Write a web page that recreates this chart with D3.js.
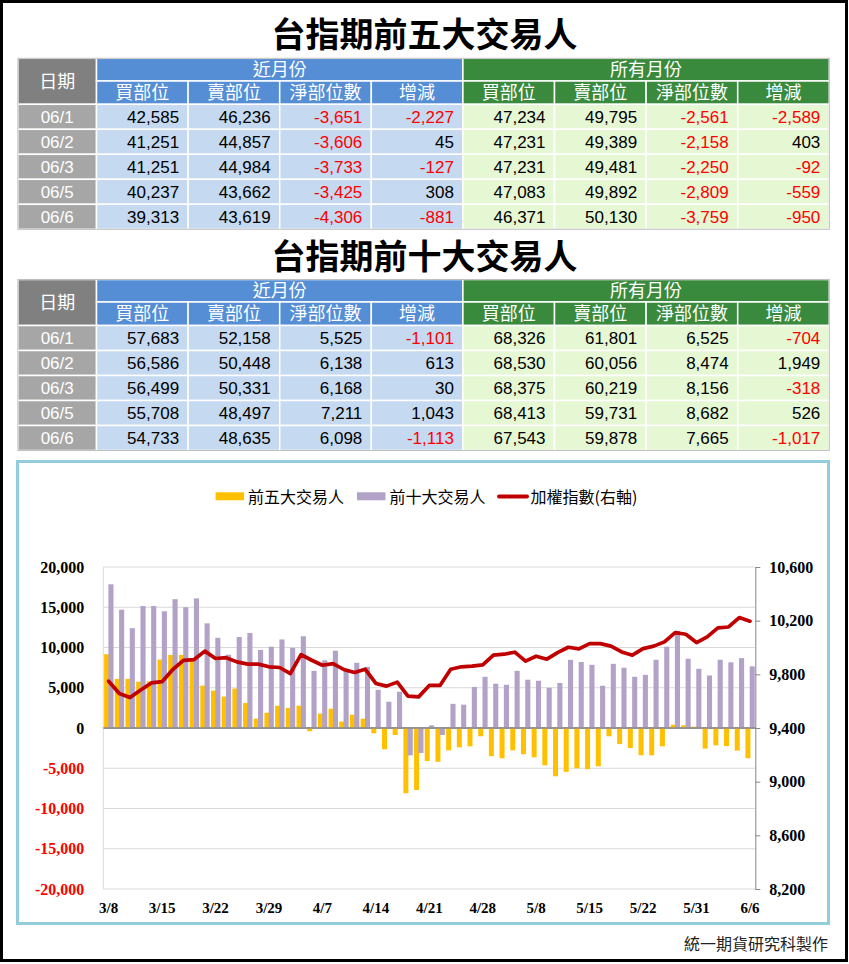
<!DOCTYPE html>
<html><head><meta charset="utf-8">
<script src="https://cdn.jsdelivr.net/npm/d3@7"></script>
<style>
body{margin:0;background:#fff;}
svg{display:block;}
</style></head><body>
<svg id="c" width="849" height="964"></svg>
<script>
// ---------- table data ----------
const dates = ["06/1","06/2","06/3","06/5","06/6"];
const groupHeaders = ["近月份","所有月份"];
const subHeaders = ["買部位","賣部位","淨部位數","增減"];

const t5NearBuy  = [42585, 41251, 41251, 40237, 39313];
const t5NearSell = [46236, 44857, 44984, 43662, 43619];
const t5NearNet  = [-3651, -3606, -3733, -3425, -4306];
const t5NearChg  = [-2227, 45, -127, 308, -881];
const t5AllBuy   = [47234, 47231, 47231, 47083, 46371];
const t5AllSell  = [49795, 49389, 49481, 49892, 50130];
const t5AllNet   = [-2561, -2158, -2250, -2809, -3759];
const t5AllChg   = [-2589, 403, -92, -559, -950];

const t10NearBuy  = [57683, 56586, 56499, 55708, 54733];
const t10NearSell = [52158, 50448, 50331, 48497, 48635];
const t10NearNet  = [5525, 6138, 6168, 7211, 6098];
const t10NearChg  = [-1101, 613, 30, 1043, -1113];
const t10AllBuy   = [68326, 68530, 68375, 68413, 67543];
const t10AllSell  = [61801, 60056, 60219, 59731, 59878];
const t10AllNet   = [6525, 8474, 8156, 8682, 7665];
const t10AllChg   = [-704, 1949, -318, 526, -1017];

// ---------- chart data ----------
const seriesNames = ["前五大交易人","前十大交易人","加權指數(右軸)"];
const tickLabels = ["3/8","3/15","3/22","3/29","4/7","4/14","4/21","4/28","5/8","5/15","5/22","5/31","6/6"];
const top5 = [9170,6100,6100,5750,5800,8500,9070,9070,8500,5260,
  4640,3900,4900,3100,1160,1900,2770,2500,2770,-400,
  1780,2400,800,1650,1160,-660,-2640,-870,-8100,-7700,
  -4100,-4200,-2770,-2400,-2270,-1030,-3500,-3760,-2770,-3260,
  -3640,-4630,-6000,-5450,-5000,-5120,-4750,-1030,-2000,-2480,
  -3390,-3390,-2270,410,330,170,-2561,-2158,-2250,-2809,-3759];
const top10 = [17850,14700,12400,15150,15150,14500,16000,15000,16100,13000,
  11200,9100,11300,11800,9700,10100,11000,9960,11400,7100,
  8400,9600,7070,8100,7600,4750,3260,4500,-3400,-3100,
  330,-870,3000,2900,5100,6360,5500,5370,7100,6000,
  5870,5000,5600,8470,8200,7850,5250,7970,7480,6360,
  6600,8470,10100,12070,8600,7360,6525,8474,8156,8682,7665];
const taiex = [9749,9657,9627,9683,9736,9745,9836,9904,9910,9973,
  9918,9924,9893,9876,9876,9856,9851,9806,9947,9905,
  9868,9880,9836,9814,9838,9732,9712,9742,9637,9632,
  9717,9717,9838,9856,9861,9871,9943,9950,9965,9898,
  9935,9913,9962,10002,9990,10029,10029,10010,9967,9943,
  9992,10010,10042,10111,10099,10037,10079,10146,10153,10223,10196];
const leftTicks = [-20000,-15000,-10000,-5000,0,5000,10000,15000,20000];
const rightTicks = [8200,8600,9000,9400,9800,10200,10600];

// ---------- setup ----------
const loc = d3.formatLocale({decimal:".", thousands:",", grouping:[3], currency:["",""], minus:"-"});
const fmt = loc.format(",");
const CJK = "'Noto Sans CJK TC','Noto Sans CJK SC','Noto Sans',sans-serif";
const NUM = "'Liberation Sans',Arial,sans-serif";
const SERIF = "'Liberation Serif','Times New Roman',serif";
const svg = d3.select("#c");

// outer border
svg.append("rect").attr("x",1.5).attr("y",1.5).attr("width",845).attr("height",959)
  .attr("fill","none").attr("stroke","#000").attr("stroke-width",3);

// ---------- tables ----------
function drawTable(title, titleBase, top, h1, h2, cols) {
  const g = svg.append("g");
  g.append("text").attr("x",424.5).attr("y",titleBase).attr("text-anchor","middle")
    .style("font-family",CJK).style("font-size","34px").style("font-weight","bold")
    .attr("fill","#000").text(title);
  const left = 17.9, dateR = 96.5, right = 829.3;
  const colX = d3.scaleBand().domain(d3.range(8)).range([dateR, right]);
  const bw = colX.bandwidth();
  const rowY = d3.scaleBand().domain(dates).range([top+h1+h2, top+h1+h2+125]);
  const rh = rowY.bandwidth();
  const blue = "#558ED5", green = "#3A8A3D";
  const cell = (x,y,w,h,fill) => g.append("rect").attr("x",x).attr("y",y).attr("width",w).attr("height",h)
      .attr("fill",fill).attr("stroke","#fff").attr("stroke-width",1.5);
  const label = (x,y,t,anchor,size,color,font) => g.append("text").attr("x",x).attr("y",y)
      .attr("text-anchor",anchor).style("font-family",font).style("font-size",size+"px")
      .attr("fill",color).text(t);
  // date header
  cell(left, top, dateR-left, h1+h2, "#808080");
  label((left+dateR)/2, top+(h1+h2)/2+6.5, "日期", "middle", 18, "#fff", CJK);
  // group headers
  [0,1].forEach(k => {
    const x0 = colX(k*4), x1 = k===0 ? colX(4) : right;
    cell(x0, top, x1-x0, h1, k===0?blue:green);
    label((x0+x1)/2, top+h1/2+6.5, groupHeaders[k], "middle", 18, "#fff", CJK);
  });
  d3.range(8).forEach(k => {
    cell(colX(k), top+h1, bw, h2, k<4?blue:green);
    label(colX(k)+bw/2, top+h1+h2/2+6.5, subHeaders[k%4], "middle", 18, "#fff", CJK);
  });
  dates.forEach((d,r) => {
    const y = rowY(d);
    cell(left, y, dateR-left, rh, "#A6A6A6");
    label((left+dateR)/2, y+rh/2+6.2, d, "middle", 17, "#fff", NUM);
    cols.forEach((arr,k) => {
      cell(colX(k), y, bw, rh, k<4 ? "#C5D9F1" : "#E6F7D4");
      const v = arr[r];
      label(colX(k)+bw-9, y+rh/2+6.2, fmt(v), "end", 17, v<0?"#FF0000":"#000", NUM);
    });
  });
  g.append("rect").attr("x",left).attr("y",top).attr("width",right-left).attr("height",h1+h2+125)
    .attr("fill","none").attr("stroke","#BFBFBF").attr("stroke-width",1);
}
drawTable("台指期前五大交易人", 47, 58.3, 22.7, 23.3,
  [t5NearBuy,t5NearSell,t5NearNet,t5NearChg,t5AllBuy,t5AllSell,t5AllNet,t5AllChg]);
drawTable("台指期前十大交易人", 268.5, 279.5, 22.5, 23.5,
  [t10NearBuy,t10NearSell,t10NearNet,t10NearChg,t10AllBuy,t10AllSell,t10AllNet,t10AllChg]);

// ---------- chart ----------
svg.append("rect").attr("x",17.5).attr("y",461.5).attr("width",811).attr("height",462)
  .attr("fill","#fff").attr("stroke","#93CDDD").attr("stroke-width",3);

const pl = 103.3, pr = 755.3, pt = 567, pb = 889;
const x = d3.scaleBand().domain(d3.range(top5.length)).range([pl, pr]);
const yL = d3.scaleLinear().domain([-20000,20000]).range([pb, pt]);
const yR = d3.scaleLinear().domain([8200,10600]).range([pb, pt]);
const cg = svg.append("g");

// gridlines
cg.selectAll("line.grid").data(leftTicks).join("line").attr("class","grid")
  .attr("x1",pl).attr("x2",pr).attr("y1",d=>yL(d)).attr("y2",d=>yL(d))
  .attr("stroke",d=>d===0?"#8C8C8C":"#D9D9D9").attr("stroke-width",d=>d===0?1.3:1);
cg.append("line").attr("x1",pl).attr("x2",pl).attr("y1",pt).attr("y2",pb)
  .attr("stroke","#D9D9D9");

// bars
const colors = ["#FFC000","#B3A2C7","#C00000"];
cg.selectAll("rect.b5").data(top5).join("rect").attr("class","b5")
  .attr("x",(d,i)=>x(i)+0.8).attr("width",5.0)
  .attr("y",d=>yL(Math.max(0,d))).attr("height",d=>Math.abs(yL(d)-yL(0)))
  .attr("fill",colors[0]);
cg.selectAll("rect.b10").data(top10).join("rect").attr("class","b10")
  .attr("x",(d,i)=>x(i)+5.1).attr("width",5.1)
  .attr("y",d=>yL(Math.max(0,d))).attr("height",d=>Math.abs(yL(d)-yL(0)))
  .attr("fill",colors[1]);
// redraw zero line on top
cg.append("line").attr("x1",pl).attr("x2",pr).attr("y1",yL(0)).attr("y2",yL(0))
  .attr("stroke","#8C8C8C").attr("stroke-width",1.3);

// line
const line = d3.line().x((d,i)=>x(i)+x.bandwidth()/2).y(d=>yR(d)).curve(d3.curveLinear);
cg.append("path").datum(taiex).attr("d",line).attr("fill","none")
  .attr("stroke",colors[2]).attr("stroke-width",3.7).attr("stroke-linejoin","round").attr("stroke-linecap","round");

// left axis
const ax = cg.append("g").attr("transform",`translate(${pl},0)`)
  .call(d3.axisLeft(yL).tickValues(leftTicks).tickSize(0).tickPadding(19).tickFormat(fmt));
ax.select(".domain").remove();
ax.selectAll("text").style("font-family",SERIF).style("font-size","16px").style("font-weight","bold")
  .attr("fill",d=>d<0?"#FF0000":"#000");

// right axis
const ar = cg.append("g").attr("transform",`translate(${pr},0)`)
  .call(d3.axisRight(yR).tickValues(rightTicks).tickSize(5).tickSizeOuter(0).tickPadding(9).tickFormat(fmt));
ar.select(".domain").attr("stroke","#868686");
ar.selectAll(".tick line").attr("stroke","#868686");
ar.selectAll("text").style("font-family",SERIF).style("font-size","16px").style("font-weight","bold").attr("fill","#000");

// x axis
const tickIdx = tickLabels.map((t,k)=>k*5);
const axb = cg.append("g").attr("transform",`translate(0,${pb})`)
  .call(d3.axisBottom(x).tickValues(tickIdx).tickSize(0).tickPadding(13).tickFormat((d,k)=>tickLabels[k]));
axb.select(".domain").remove();
axb.selectAll("text").style("font-family",SERIF).style("font-size","15px").style("font-weight","bold").attr("fill","#000");

// legend
const lg = svg.append("g");
const legItems = [
  {x:215.6, type:"rect"},
  {x:357, type:"rect"},
  {x:497, type:"line"}
];
legItems.forEach((it,k)=>{
  if (it.type==="rect") {
    lg.append("rect").attr("x",it.x).attr("y",492.3).attr("width",28.5).attr("height",8).attr("fill",colors[k]);
  } else {
    lg.append("line").attr("x1",it.x+2).attr("x2",it.x+30).attr("y1",496.5).attr("y2",496.5)
      .attr("stroke",colors[k]).attr("stroke-width",4).attr("stroke-linecap","round");
  }
  lg.append("text").attr("x",it.x+(it.type==="rect"?32.5:33.5)).attr("y",503)
    .style("font-family",CJK).style("font-size","16px").attr("fill","#000").text(seriesNames[k]);
});

// footer
svg.append("text").attr("x",828).attr("y",950).attr("text-anchor","end")
  .style("font-family",CJK).style("font-size","16px").attr("fill","#222").text("統一期貨研究科製作");
</script>
</body></html>
